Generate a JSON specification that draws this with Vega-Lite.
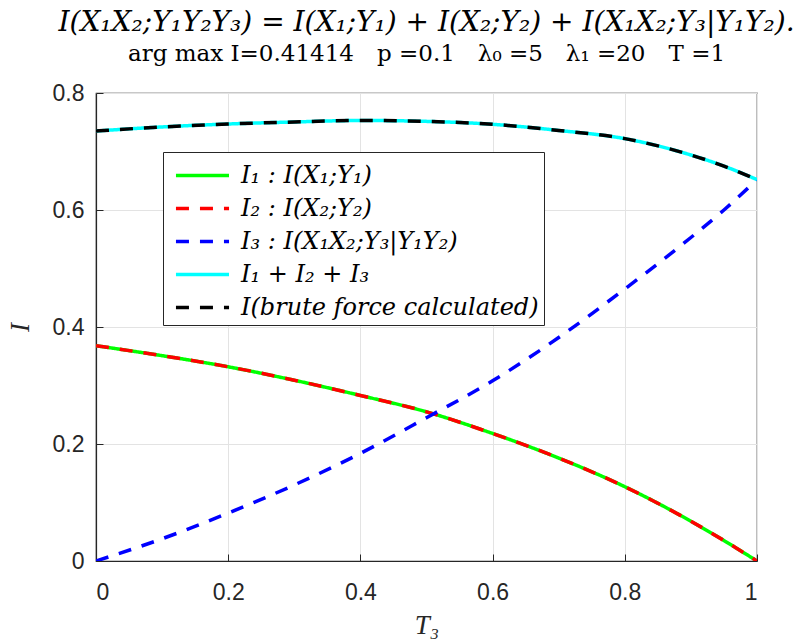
{
  "$schema": "https://vega.github.io/schema/vega-lite/v6.json",
  "width": 661,
  "height": 468,
  "autosize": "none",
  "padding": {"left": 96, "top": 93, "right": 48, "bottom": 79},
  "background": "white",
  "title": {
    "text": "I(X₁X₂;Y₁Y₂Y₃) = I(X₁;Y₁) + I(X₂;Y₂) + I(X₁X₂;Y₃|Y₁Y₂).",
    "subtitle": "arg max I=0.41414\u2003p =0.1\u2003λ₀ =5\u2003λ₁ =20\u2003T =1",
    "anchor": "middle",
    "offset": 16,
    "font": "DejaVu Serif",
    "subtitleFont": "DejaVu Serif",
    "fontSize": 28,
    "subtitleFontSize": 23,
    "fontStyle": "italic",
    "fontWeight": "normal",
    "subtitleFontStyle": "normal",
    "color": "#000000",
    "subtitleColor": "#000000",
    "subtitlePadding": 6
  },
  "data": {
    "values": [
      {"T3": 0.0, "I1": 0.368, "I2": 0.368, "I3": 0.000, "Isum": 0.735, "Itotal": 0.735},
      {"T3": 0.1, "I1": 0.351, "I2": 0.351, "I3": 0.038, "Isum": 0.742, "Itotal": 0.742},
      {"T3": 0.2, "I1": 0.332, "I2": 0.332, "I3": 0.082, "Isum": 0.747, "Itotal": 0.747},
      {"T3": 0.3, "I1": 0.309, "I2": 0.309, "I3": 0.130, "Isum": 0.7505, "Itotal": 0.7505},
      {"T3": 0.4, "I1": 0.283, "I2": 0.283, "I3": 0.184, "Isum": 0.753, "Itotal": 0.753},
      {"T3": 0.5, "I1": 0.255, "I2": 0.255, "I3": 0.245, "Isum": 0.7515, "Itotal": 0.7515},
      {"T3": 0.6, "I1": 0.218, "I2": 0.218, "I3": 0.308, "Isum": 0.7465, "Itotal": 0.7465},
      {"T3": 0.7, "I1": 0.176, "I2": 0.176, "I3": 0.382, "Isum": 0.736, "Itotal": 0.736},
      {"T3": 0.8, "I1": 0.127, "I2": 0.127, "I3": 0.465, "Isum": 0.722, "Itotal": 0.722},
      {"T3": 0.9, "I1": 0.068, "I2": 0.068, "I3": 0.553, "Isum": 0.694, "Itotal": 0.694},
      {"T3": 0.95, "I1": 0.035, "I2": 0.035, "I3": 0.600, "Isum": 0.675, "Itotal": 0.675},
      {"T3": 1.0, "I1": 0.000, "I2": 0.000, "I3": 0.652, "Isum": 0.652, "Itotal": 0.652}
    ]
  },
  "transform": [
    {"fold": ["I1", "I2", "I3", "Isum", "Itotal"], "as": ["series", "I"]}
  ],
  "mark": {"type": "line", "strokeWidth": 3.5, "interpolate": "monotone", "clip": true},
  "encoding": {
    "x": {
      "field": "T3",
      "type": "quantitative",
      "scale": {"domain": [0, 1], "nice": false},
      "axis": {"values": [0, 0.2, 0.4, 0.6, 0.8, 1], "format": "~g", "title": "T₃", "titlePadding": 8}
    },
    "y": {
      "field": "I",
      "type": "quantitative",
      "scale": {"domain": [0, 0.8], "nice": false},
      "axis": {"values": [0, 0.2, 0.4, 0.6, 0.8], "format": "~g", "title": "I", "titlePadding": 18}
    },
    "color": {
      "field": "series",
      "type": "nominal",
      "scale": {
        "domain": ["I1", "I2", "I3", "Isum", "Itotal"],
        "range": ["#00ff00", "#ff0000", "#0000ff", "#00ffff", "#000000"]
      },
      "legend": {
        "title": null,
        "labelExpr": "{'I1': 'I₁ : I(X₁;Y₁)', 'I2': 'I₂ : I(X₂;Y₂)', 'I3': 'I₃ : I(X₁X₂;Y₃|Y₁Y₂)', 'Isum': 'I₁ + I₂ + I₃', 'Itotal': 'I(brute force calculated)'}[datum.label]"
      }
    },
    "strokeDash": {
      "field": "series",
      "type": "nominal",
      "scale": {
        "domain": ["I1", "I2", "I3", "Isum", "Itotal"],
        "range": [[1, 0], [13, 11], [13, 11], [1, 0], [13, 11]]
      },
      "legend": {
        "title": null,
        "labelExpr": "{'I1': 'I₁ : I(X₁;Y₁)', 'I2': 'I₂ : I(X₂;Y₂)', 'I3': 'I₃ : I(X₁X₂;Y₃|Y₁Y₂)', 'Isum': 'I₁ + I₂ + I₃', 'Itotal': 'I(brute force calculated)'}[datum.label]"
      }
    }
  },
  "config": {
    "view": {"stroke": "#262626", "strokeWidth": 1.2},
    "axis": {
      "domainColor": "#262626",
      "domainWidth": 1.2,
      "tickColor": "#262626",
      "tickSize": -7,
      "labelFont": "Liberation Sans",
      "labelFontSize": 23,
      "labelColor": "#262626",
      "labelPadding": 27,
      "gridColor": "#e3e3e3",
      "gridWidth": 1,
      "titleFont": "Liberation Serif",
      "titleFontStyle": "italic",
      "titleFontWeight": "normal",
      "titleFontSize": 27,
      "titleColor": "#262626"
    },
    "axisY": {"titleAngle": -90, "labelPadding": 19},
    "legend": {
      "orient": "none",
      "legendX": 67,
      "legendY": 59,
      "strokeColor": "#262626",
      "fillColor": "white",
      "padding": 5,
      "symbolType": "M-1.6,0H1.6",
      "symbolSize": 1100,
      "symbolOffset": 16,
      "symbolStrokeWidth": 3.5,
      "labelFont": "DejaVu Serif",
      "labelFontSize": 24,
      "labelFontStyle": "italic",
      "labelColor": "#000000",
      "labelLimit": 500,
      "labelOffset": 20,
      "rowPadding": 2
    }
  }
}
